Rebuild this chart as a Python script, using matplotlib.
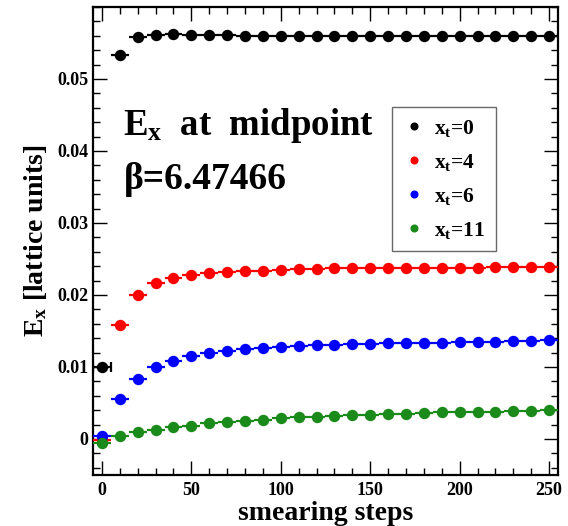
import matplotlib
matplotlib.use('Agg')
import matplotlib.pyplot as plt
from matplotlib.lines import Line2D
from matplotlib.ticker import MultipleLocator

plt.rcParams['font.family'] = ['Liberation Serif', 'DejaVu Serif']
plt.rcParams['font.weight'] = 'bold'
plt.rcParams['mathtext.fontset'] = 'custom'
plt.rcParams['mathtext.rm'] = 'Liberation Serif:bold'
plt.rcParams['mathtext.bf'] = 'Liberation Serif:bold'
plt.rcParams['mathtext.it'] = 'Liberation Serif:bold'

# smearing steps
steps = list(range(0, 251, 10))

# E_x for each x_t
ex_xt0 = [0.0100, 0.0534, 0.0558, 0.0561, 0.0562, 0.0561, 0.0561, 0.0561, 0.0560,
          0.0560, 0.0560, 0.0560, 0.0560, 0.0560, 0.0560, 0.0560, 0.0560, 0.0560,
          0.0560, 0.0560, 0.0560, 0.0560, 0.0560, 0.0560, 0.0560, 0.0560]
ex_xt4 = [-0.0001, 0.0159, 0.0200, 0.0216, 0.0224, 0.0228, 0.0231, 0.0232, 0.0233,
          0.0234, 0.0235, 0.0236, 0.0236, 0.0237, 0.0237, 0.0237, 0.0238, 0.0238,
          0.0238, 0.0238, 0.0238, 0.0238, 0.0239, 0.0239, 0.0239, 0.0239]
ex_xt6 = [0.0004, 0.0056, 0.0084, 0.0100, 0.0109, 0.0115, 0.0119, 0.0122, 0.0125,
          0.0126, 0.0128, 0.0129, 0.0130, 0.0131, 0.0132, 0.0132, 0.0133, 0.0133,
          0.0134, 0.0134, 0.0135, 0.0135, 0.0135, 0.0136, 0.0136, 0.0137]
ex_xt11 = [-0.0005, 0.0004, 0.0009, 0.0012, 0.0016, 0.0018, 0.0022, 0.0024, 0.0025,
           0.0027, 0.0029, 0.0030, 0.0031, 0.0032, 0.0033, 0.0034, 0.0035, 0.0035,
           0.0036, 0.0037, 0.0037, 0.0038, 0.0038, 0.0039, 0.0039, 0.0040]

yticks = [0, 0.01, 0.02, 0.03, 0.04, 0.05]
ytick_labels = ['0', '0.01', '0.02', '0.03', '0.04', '0.05']
xticks = [0, 50, 100, 150, 200, 250]

series = [(ex_xt0, 'black', r'$\mathbf{x_t}$=0'),
          (ex_xt4, '#ff0000', r'$\mathbf{x_t}$=4'),
          (ex_xt6, '#0000ff', r'$\mathbf{x_t}$=6'),
          (ex_xt11, '#1a8a1a', r'$\mathbf{x_t}$=11')]

fig = plt.figure(figsize=(5.68, 5.26), dpi=100)
ax = fig.add_axes([0.1637, 0.097, 0.8187, 0.8897])

handles = []
for vals, col, lab in series:
    ax.errorbar(steps[1:], vals[1:], xerr=5, fmt='o', color=col, ms=7.2,
                elinewidth=1.6, capsize=0, zorder=3)
    cap = 3.5 if col == 'black' else 0
    ax.errorbar(steps[:1], vals[:1], xerr=5, fmt='o', color=col, ms=7.2,
                elinewidth=1.6, capsize=cap, capthick=1.6, zorder=3)
    handles.append(Line2D([], [], ls='none', marker='o', color=col, ms=4.8, label=lab))

ax.set_xlim(-5, 255)
ax.set_ylim(-0.005, 0.06)
ax.set_xticks(xticks)
ax.xaxis.set_minor_locator(MultipleLocator(10))
ax.set_yticks(yticks)
ax.set_yticklabels(ytick_labels)
ax.yaxis.set_minor_locator(MultipleLocator(0.002))
ax.tick_params(which='both', direction='in', top=True, right=True, width=1, labelsize=13)
ax.tick_params(which='major', length=10)
ax.tick_params(which='minor', length=5)
ax.tick_params(axis='x', pad=5)
for s in ax.spines.values():
    s.set_linewidth(1.6)

ax.set_xlabel('smearing steps', fontsize=20, fontweight='bold')
ax.xaxis.set_label_coords(0.5, -0.056)
ax.set_ylabel(r'$\mathbf{E_x}$ [lattice units]', fontsize=20, fontweight='bold', labelpad=6)

ax.text(12.0, 0.0422, r'$\mathbf{E_x}$  at  midpoint', fontsize=26.5, fontweight='bold',
        va='baseline', ha='left')
ax.text(12.0, 0.0347, 'β=6.47466', fontsize=27, fontweight='bold', va='baseline', ha='left')

leg = ax.legend(handles=handles, loc='upper left', bbox_to_anchor=(0.643, 0.786),
                borderaxespad=0, fontsize=15.5, frameon=True, fancybox=False,
                labelspacing=0.6, handlelength=1.0, handletextpad=0.45,
                borderpad=0.5)
leg.get_frame().set_edgecolor('#444444')
leg.get_frame().set_linewidth(1.0)

plt.savefig('out.png', dpi=100)
